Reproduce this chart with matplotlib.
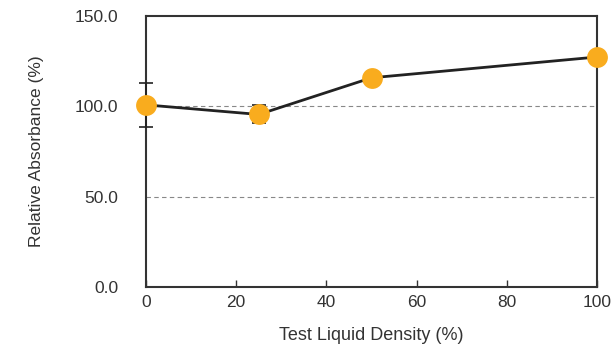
import matplotlib.pyplot as plt

density = [0, 25, 50, 100]
absorbance = [100.8, 95.5, 115.8, 127.3]
err = [12.0, 5.0, 0, 0]

plt.rcParams['font.family'] = ['Liberation Sans', 'DejaVu Sans']

fig = plt.figure(figsize=(6.14, 3.44), dpi=100)
ax = fig.add_axes([0.2378, 0.1657, 0.7345, 0.7878])

for y in [50, 100]:
    ax.axhline(y, color='#888888', lw=0.8, ls=(0, (4, 3)), zorder=1)

ax.errorbar(density, absorbance, yerr=err, fmt='none', ecolor='#222222',
            elinewidth=1.2, capsize=5, capthick=1.2, zorder=3, clip_on=False)
ax.plot(density, absorbance, color='#222222', lw=2, zorder=2)
ax.plot(density, absorbance, 'o', color='#F9AC1E', markersize=15,
        markeredgewidth=0, zorder=4, clip_on=False)

ax.set_xlim(0, 100)
ax.set_ylim(0, 150)
ax.set_xticks([0, 20, 40, 60, 80, 100])
ax.set_yticks([0, 50, 100, 150])
ax.set_yticklabels(['0.0', '50.0', '100.0', '150.0'])

for s in ax.spines.values():
    s.set_color('#333333')
    s.set_linewidth(1.5)

ax.tick_params(axis='x', direction='in', length=5, width=1, color='#333333',
               labelsize=12.5, labelcolor='#333333', pad=6)
ax.tick_params(axis='y', length=0, labelsize=12.5, labelcolor='#333333', pad=20)

ax.set_xlabel('Test Liquid Density (%)', fontsize=13, color='#333333', labelpad=12)
ax.set_ylabel('Relative Absorbance (%)', fontsize=12.5, color='#333333', labelpad=22)

fig.savefig('out.png', dpi=100)
